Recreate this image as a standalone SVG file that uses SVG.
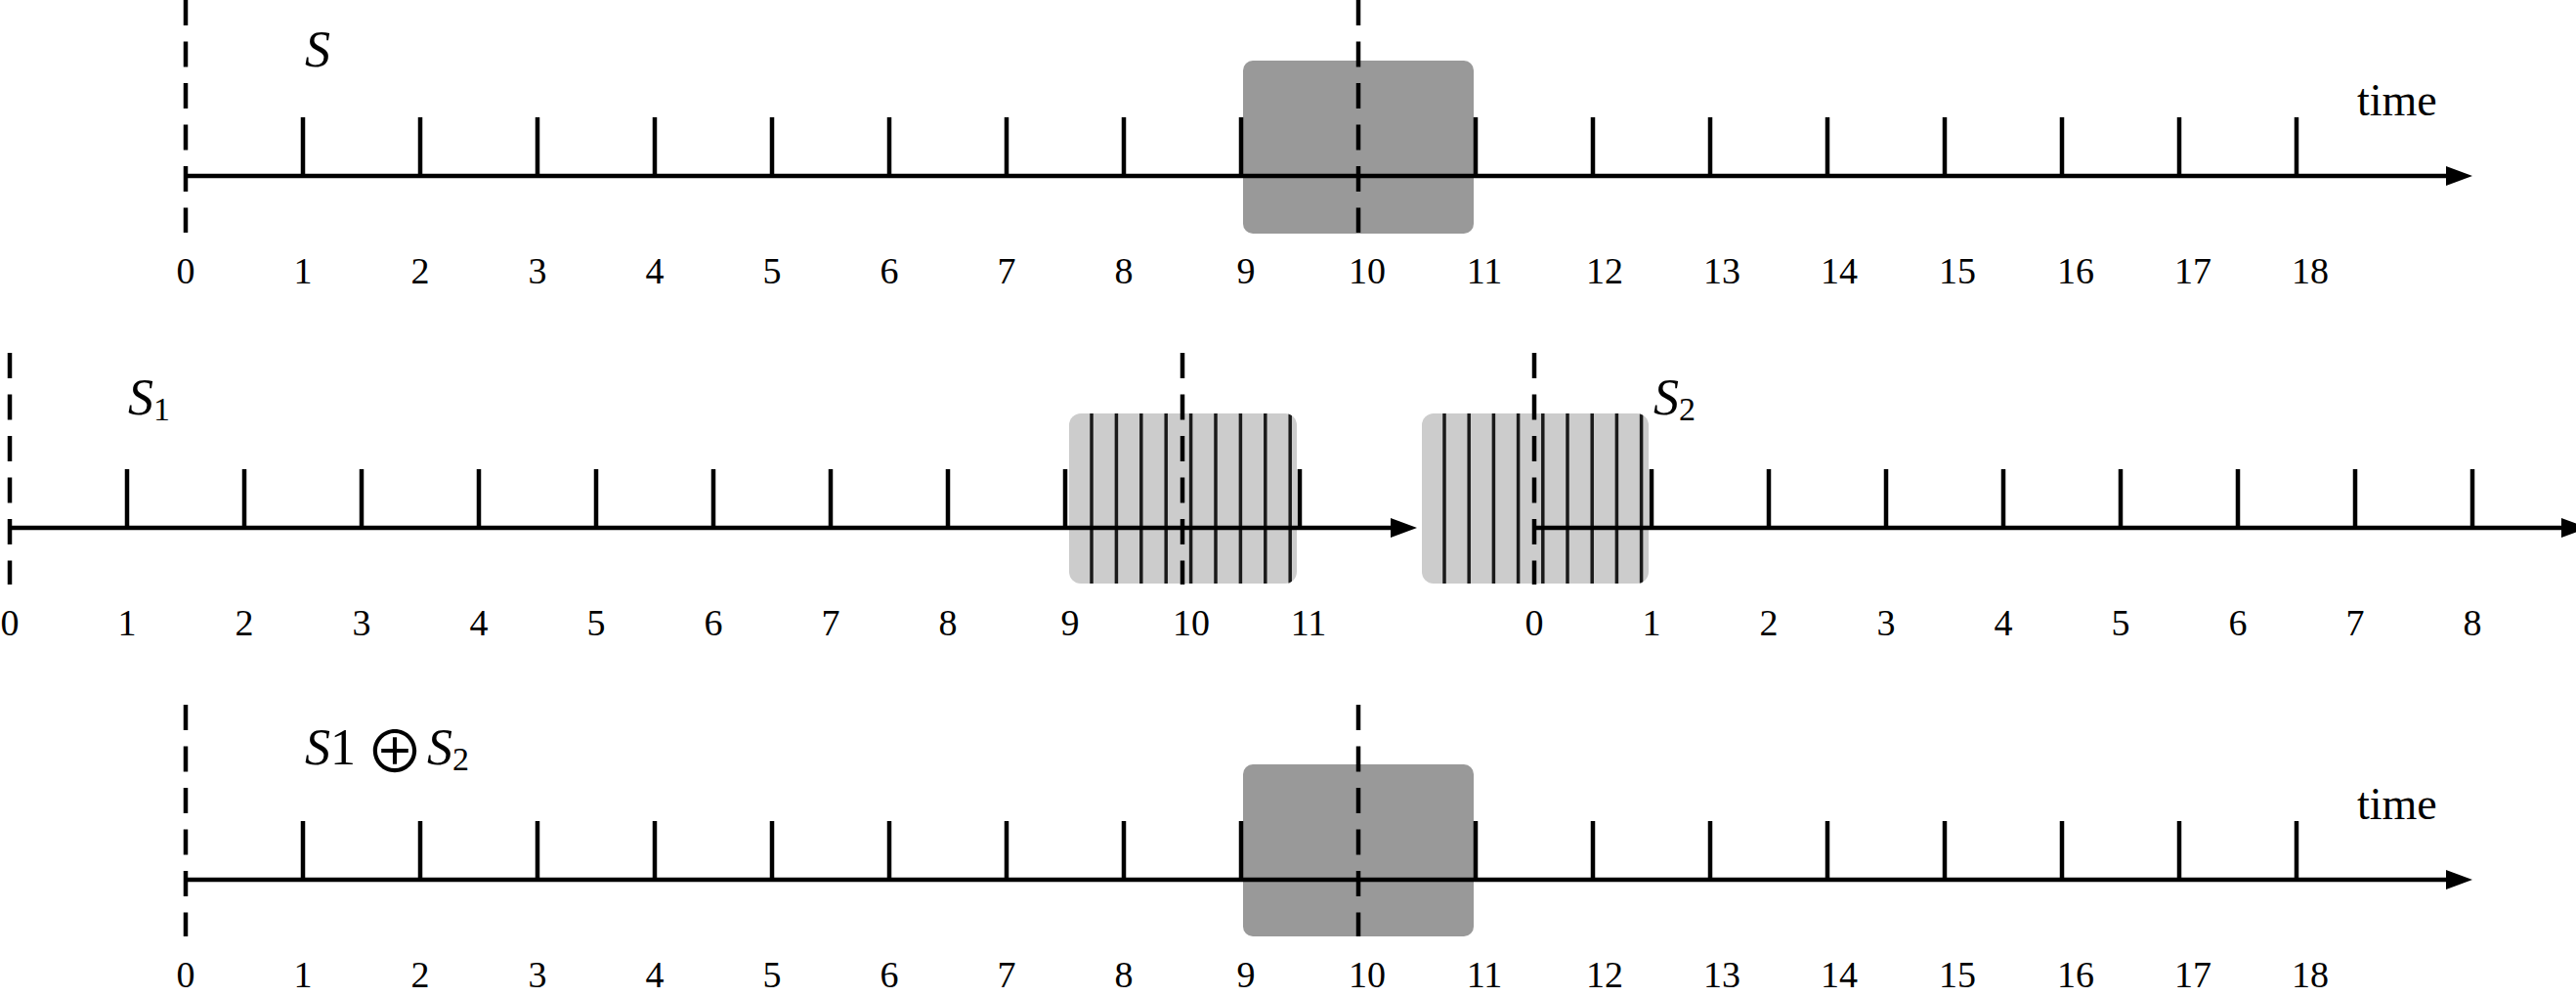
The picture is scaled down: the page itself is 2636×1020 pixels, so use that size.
<svg xmlns="http://www.w3.org/2000/svg" width="2636" height="1020" viewBox="0 0 2636 1020">
<defs>
<style>
.axis{stroke:#000;stroke-width:4.5;fill:none}
.tick{stroke:#000;stroke-width:4.5}
.dash{stroke:#000;stroke-width:4.5;stroke-dasharray:26 16.5}
.num{font-family:"Liberation Serif",serif;font-size:38px;fill:#000;text-anchor:middle}
.lbl{font-family:"Liberation Serif",serif;font-size:52px;fill:#000}
.it{font-style:italic}
.sub{font-size:34px;font-style:normal}
.time{font-family:"Liberation Serif",serif;font-size:46px;fill:#000}
.dark{fill:#999999}
.light{fill:#cccccc}
.hatch{stroke:#1a1a1a;stroke-width:3.5}
</style>
<marker id="arr" markerUnits="userSpaceOnUse" markerWidth="28" markerHeight="20" refX="7" refY="10" orient="auto">
<path d="M0,0 L27,10 L0,20 z" fill="#000"/>
</marker>
<clipPath id="c1"><rect x="1094" y="423" width="233" height="174" rx="12"/></clipPath>
<clipPath id="c2"><rect x="1455" y="423" width="232" height="174" rx="12"/></clipPath>
</defs>

<g id="boxes">
<g id="box-top"><rect class="dark" x="1272" y="62" width="236" height="177" rx="10"/></g>
<g id="box-mid-left">
<rect class="light" x="1094" y="423" width="233" height="174" rx="12"/>
<g clip-path="url(#c1)">
<line class="hatch" x1="1117" y1="423" x2="1117" y2="597"/>
<line class="hatch" x1="1142.4" y1="423" x2="1142.4" y2="597"/>
<line class="hatch" x1="1167.8" y1="423" x2="1167.8" y2="597"/>
<line class="hatch" x1="1193.2" y1="423" x2="1193.2" y2="597"/>
<line class="hatch" x1="1218.6" y1="423" x2="1218.6" y2="597"/>
<line class="hatch" x1="1244" y1="423" x2="1244" y2="597"/>
<line class="hatch" x1="1269.4" y1="423" x2="1269.4" y2="597"/>
<line class="hatch" x1="1294.8" y1="423" x2="1294.8" y2="597"/>
<line class="hatch" x1="1320.2" y1="423" x2="1320.2" y2="597"/>
</g>
</g>
<g id="box-mid-right">
<rect class="light" x="1455" y="423" width="232" height="174" rx="12"/>
<g clip-path="url(#c2)">
<line class="hatch" x1="1478" y1="423" x2="1478" y2="597"/>
<line class="hatch" x1="1503.2" y1="423" x2="1503.2" y2="597"/>
<line class="hatch" x1="1528.4" y1="423" x2="1528.4" y2="597"/>
<line class="hatch" x1="1553.6" y1="423" x2="1553.6" y2="597"/>
<line class="hatch" x1="1578.8" y1="423" x2="1578.8" y2="597"/>
<line class="hatch" x1="1604" y1="423" x2="1604" y2="597"/>
<line class="hatch" x1="1629.2" y1="423" x2="1629.2" y2="597"/>
<line class="hatch" x1="1654.4" y1="423" x2="1654.4" y2="597"/>
<line class="hatch" x1="1679.6" y1="423" x2="1679.6" y2="597"/>
</g>
</g>
<g id="box-bottom"><rect class="dark" x="1272" y="782" width="236" height="176" rx="10"/></g>
</g>

<g id="connectors">
<line class="axis" x1="190" y1="180" x2="2510" y2="180" marker-end="url(#arr)"/>
<line class="axis" x1="10" y1="540" x2="1430" y2="540" marker-end="url(#arr)"/>
<line class="axis" x1="1570" y1="540" x2="2628" y2="540" marker-end="url(#arr)"/>
<line class="axis" x1="190" y1="900" x2="2510" y2="900" marker-end="url(#arr)"/>
</g>

<g id="ticks">
<path class="tick" d="M310,120V180M430,120V180M550,120V180M670,120V180M790,120V180M910,120V180M1030,120V180M1150,120V180M1270,120V180M1510,120V180M1630,120V180M1750,120V180M1870,120V180M1990,120V180M2110,120V180M2230,120V180M2350,120V180"/>
<path class="tick" d="M130,480V540M250,480V540M370,480V540M490,480V540M610,480V540M730,480V540M850,480V540M970,480V540M1090,480V540M1330,480V540"/>
<path class="tick" d="M1690,480V540M1810,480V540M1930,480V540M2050,480V540M2170,480V540M2290,480V540M2410,480V540M2530,480V540"/>
<path class="tick" d="M310,840V900M430,840V900M550,840V900M670,840V900M790,840V900M910,840V900M1030,840V900M1150,840V900M1270,840V900M1510,840V900M1630,840V900M1750,840V900M1870,840V900M1990,840V900M2110,840V900M2230,840V900M2350,840V900"/>
</g>

<g id="dashed">
<line class="dash" x1="190" y1="0" x2="190" y2="238"/>
<line class="dash" x1="1390" y1="0" x2="1390" y2="238"/>
<line class="dash" x1="10" y1="361" x2="10" y2="598"/>
<line class="dash" x1="1210" y1="361" x2="1210" y2="598"/>
<line class="dash" x1="1570" y1="361" x2="1570" y2="598"/>
<line class="dash" x1="190" y1="721" x2="190" y2="958"/>
<line class="dash" x1="1390" y1="721" x2="1390" y2="958"/>
</g>

<g id="labels-top">
<text class="lbl it" x="312" y="68">S</text>
<text class="time" x="2412" y="118">time</text>
<text class="num" x="190" y="290">0</text>
<text class="num" x="310" y="290">1</text>
<text class="num" x="430" y="290">2</text>
<text class="num" x="550" y="290">3</text>
<text class="num" x="670" y="290">4</text>
<text class="num" x="790" y="290">5</text>
<text class="num" x="910" y="290">6</text>
<text class="num" x="1030" y="290">7</text>
<text class="num" x="1150" y="290">8</text>
<text class="num" x="1275" y="290">9</text>
<text class="num" x="1399" y="290">10</text>
<text class="num" x="1519" y="290">11</text>
<text class="num" x="1642" y="290">12</text>
<text class="num" x="1762" y="290">13</text>
<text class="num" x="1882" y="290">14</text>
<text class="num" x="2003" y="290">15</text>
<text class="num" x="2124" y="290">16</text>
<text class="num" x="2244" y="290">17</text>
<text class="num" x="2364" y="290">18</text>
</g>

<g id="labels-mid">
<text class="lbl" x="131" y="424"><tspan class="it">S</tspan><tspan class="sub" dy="6">1</tspan></text>
<text class="lbl" x="1692" y="424"><tspan class="it">S</tspan><tspan class="sub" dy="6">2</tspan></text>
<text class="num" x="10" y="650">0</text>
<text class="num" x="130" y="650">1</text>
<text class="num" x="250" y="650">2</text>
<text class="num" x="370" y="650">3</text>
<text class="num" x="490" y="650">4</text>
<text class="num" x="610" y="650">5</text>
<text class="num" x="730" y="650">6</text>
<text class="num" x="850" y="650">7</text>
<text class="num" x="970" y="650">8</text>
<text class="num" x="1095" y="650">9</text>
<text class="num" x="1219" y="650">10</text>
<text class="num" x="1339" y="650">11</text>
<text class="num" x="1570" y="650">0</text>
<text class="num" x="1690" y="650">1</text>
<text class="num" x="1810" y="650">2</text>
<text class="num" x="1930" y="650">3</text>
<text class="num" x="2050" y="650">4</text>
<text class="num" x="2170" y="650">5</text>
<text class="num" x="2290" y="650">6</text>
<text class="num" x="2410" y="650">7</text>
<text class="num" x="2530" y="650">8</text>
</g>

<g id="labels-bottom">
<text class="lbl" x="312" y="782"><tspan class="it">S</tspan>1</text>
<text x="404" y="791" font-family="'Noto Sans CJK JP','DejaVu Sans',sans-serif" font-size="60" text-anchor="middle">⊕</text>
<text class="lbl" x="437" y="782"><tspan class="it">S</tspan><tspan class="sub" dy="6">2</tspan></text>
<text class="time" x="2412" y="838">time</text>
<text class="num" x="190" y="1010">0</text>
<text class="num" x="310" y="1010">1</text>
<text class="num" x="430" y="1010">2</text>
<text class="num" x="550" y="1010">3</text>
<text class="num" x="670" y="1010">4</text>
<text class="num" x="790" y="1010">5</text>
<text class="num" x="910" y="1010">6</text>
<text class="num" x="1030" y="1010">7</text>
<text class="num" x="1150" y="1010">8</text>
<text class="num" x="1275" y="1010">9</text>
<text class="num" x="1399" y="1010">10</text>
<text class="num" x="1519" y="1010">11</text>
<text class="num" x="1642" y="1010">12</text>
<text class="num" x="1762" y="1010">13</text>
<text class="num" x="1882" y="1010">14</text>
<text class="num" x="2003" y="1010">15</text>
<text class="num" x="2124" y="1010">16</text>
<text class="num" x="2244" y="1010">17</text>
<text class="num" x="2364" y="1010">18</text>
</g>
</svg>
